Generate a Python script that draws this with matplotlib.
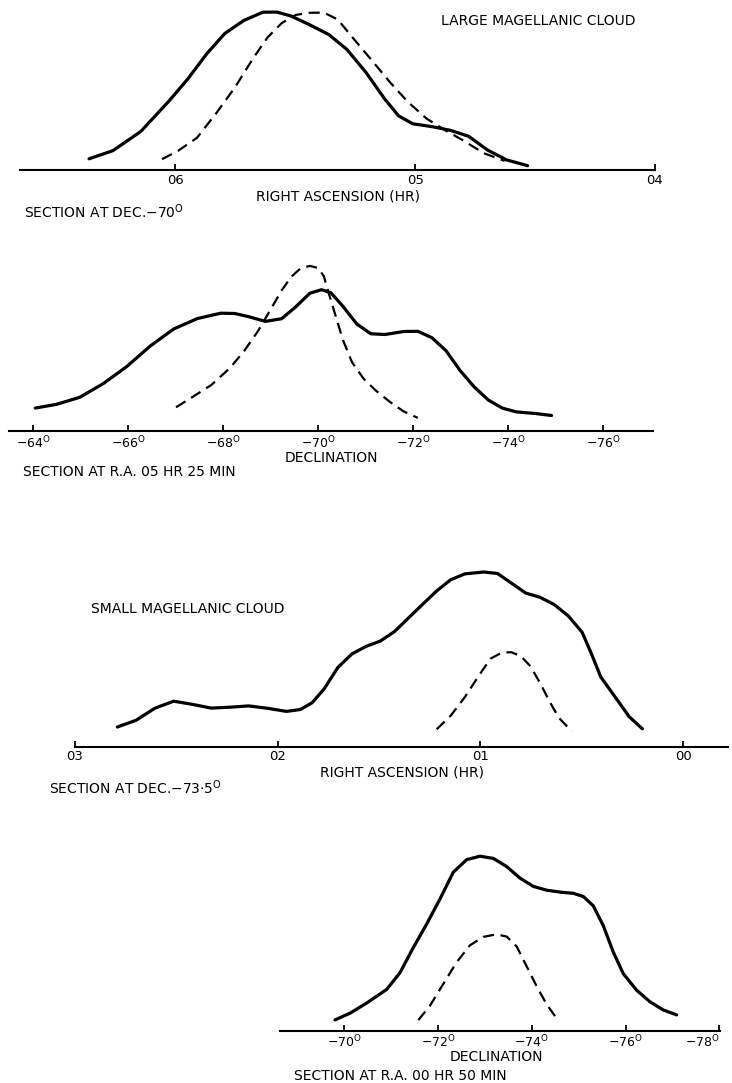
import matplotlib
matplotlib.use("Agg")
import matplotlib.pyplot as plt

plt.rcParams['font.family'] = ['DejaVu Sans']
plt.rcParams['mathtext.fontset'] = 'dejavusans'

# --- Large Magellanic Cloud, section at Dec -70 (x = RA in hours) ---
lmc_ra_solid_x = [6.360, 6.260, 6.144, 6.027, 5.948, 5.869, 5.794, 5.715, 5.635, 5.577,
                  5.519, 5.440, 5.360, 5.285, 5.206, 5.127, 5.069, 5.010, 4.931, 4.852,
                  4.777, 4.698, 4.619, 4.531]
lmc_ra_solid_y = [11.7, 19.9, 39.1, 69.4, 91.6, 116.8, 137.0, 150.0, 158.3, 158.4,
                  154.6, 145.7, 135.9, 121.1, 98.3, 71.5, 54.6, 46.7, 43.9, 40.1,
                  34.2, 20.4, 10.6, 4.8]
lmc_ra_dash_x = [6.056, 5.990, 5.910, 5.831, 5.752, 5.673, 5.615, 5.556, 5.498, 5.440,
                 5.381, 5.323, 5.265, 5.185, 5.106, 5.031, 4.952, 4.873, 4.794, 4.715, 4.627]
lmc_ra_dash_y = [11.3, 19.5, 32.7, 56.9, 83.0, 113.2, 133.3, 147.5, 155.6, 157.7,
                 157.9, 151.0, 134.1, 111.3, 88.5, 68.7, 51.8, 40.0, 29.2, 17.4, 9.6]

# --- Large Magellanic Cloud, section at R.A. 05h 25m (x = declination) ---
lmc_dec_solid_x = [-64.046, -64.491, -64.985, -65.480, -65.975, -66.467, -66.962, -67.457,
                   -67.952, -68.246, -68.543, -68.891, -69.236, -69.533, -69.829, -70.076,
                   -70.274, -70.520, -70.817, -71.114, -71.411, -71.807, -72.101, -72.398,
                   -72.695, -72.992, -73.288, -73.585, -73.880, -74.177, -74.573, -74.918]
lmc_dec_solid_y = [22.9, 26.6, 33.7, 47.4, 64.5, 84.9, 102.0, 112.4,
                   117.8, 117.5, 114.3, 109.6, 112.3, 124.2, 137.8, 141.3,
                   138.2, 125.0, 107.0, 97.2, 96.5, 99.5, 99.7, 93.3,
                   80.3, 60.5, 44.1, 31.0, 22.9, 19.1, 17.5, 15.5]
lmc_dec_dash_x = [-67.011, -67.358, -67.754, -68.147, -68.444, -68.741, -68.989, -69.236,
                  -69.434, -69.632, -69.829, -70.006, -70.124, -70.223, -70.373, -70.520,
                  -70.718, -70.964, -71.213, -71.509, -71.806, -72.101]
lmc_dec_dash_y = [23.7, 34.0, 46.0, 63.0, 79.9, 100.2, 120.4, 140.6,
                  154.1, 162.6, 165.1, 163.0, 154.7, 138.2, 114.9, 91.7,
                  68.6, 52.1, 40.6, 29.3, 19.5, 13.1]

# --- Small Magellanic Cloud, section at Dec -73.5 (x = RA in hours) ---
smc_ra_solid_x = [2.791, 2.698, 2.606, 2.513, 2.420, 2.328, 2.235, 2.143, 2.050, 1.957,
                  1.888, 1.830, 1.772, 1.703, 1.633, 1.563, 1.494, 1.424, 1.355, 1.286,
                  1.216, 1.147, 1.077, 0.984, 0.915, 0.846, 0.776, 0.707, 0.637, 0.567,
                  0.498, 0.452, 0.406, 0.336, 0.266, 0.201]
smc_ra_solid_y = [20.0, 26.8, 38.8, 45.8, 42.6, 38.9, 39.8, 41.1, 38.7, 35.6,
                  37.5, 44.3, 57.8, 79.6, 93.2, 100.7, 105.9, 115.4, 129.0, 142.5,
                  156.0, 167.2, 173.1, 175.0, 173.5, 163.7, 153.9, 149.8, 142.6, 131.2,
                  114.7, 93.1, 70.0, 50.2, 30.3, 18.2]
smc_ra_dash_x = [1.216, 1.147, 1.077, 1.007, 0.950, 0.892, 0.846, 0.799, 0.753, 0.706,
                 0.660, 0.614, 0.549]
smc_ra_dash_y = [17.7, 31.2, 49.8, 71.6, 88.4, 94.6, 94.7, 90.6, 80.7, 64.1,
                 46.0, 29.4, 15.6]

# --- Small Magellanic Cloud, section at R.A. 00h 50m (x = declination) ---
smc_dec_solid_x = [-69.802, -70.122, -70.478, -70.904, -71.188, -71.471, -71.757, -72.041,
                   -72.324, -72.610, -72.893, -73.177, -73.463, -73.746, -74.030, -74.316,
                   -74.599, -74.883, -75.096, -75.309, -75.522, -75.736, -75.949, -76.235,
                   -76.518, -76.802, -77.087]
smc_dec_solid_y = [10.6, 17.3, 27.5, 41.1, 57.8, 82.9, 106.5, 131.6,
                   158.3, 170.9, 174.3, 172.1, 163.9, 152.4, 144.1, 140.3,
                   138.4, 137.2, 134.0, 124.7, 104.9, 78.4, 56.8, 40.2,
                   28.7, 20.5, 15.6]
smc_dec_dash_x = [-71.578, -71.827, -72.111, -72.397, -72.680, -72.964, -73.249, -73.463,
                  -73.676, -73.889, -74.102, -74.316, -74.493]
smc_dec_dash_y = [10.4, 24.8, 46.6, 68.4, 85.2, 93.6, 96.2, 93.9,
                  84.0, 64.1, 44.2, 26.0, 14.4]

ra_ticks_lmc = [6, 5, 4]
ra_labels_lmc = ["06", "05", "04"]
dec_ticks_lmc = [-64, -66, -68, -70, -72, -74, -76]
ra_ticks_smc = [3, 2, 1, 0]
ra_labels_smc = ["03", "02", "01", "00"]
dec_ticks_smc = [-70, -72, -74, -76, -78]

W, H = 732, 1083
fig = plt.figure(figsize=(W / 100, H / 100), dpi=100)
FS = 10
TFS_RA = 9.5
TFS_DEC = 9


def deg(v):
    return "\u2212%d$^{\\mathrm{O}}$" % abs(v)


def panel(left, top, right, base, xlim, tfs):
    ax = fig.add_axes([left / W, 1 - base / H, (right - left) / W, (base - top) / H])
    ax.set_xlim(*xlim)
    ax.set_ylim(0, base - top)
    for s in ("left", "right", "top"):
        ax.spines[s].set_visible(False)
    ax.spines["bottom"].set_linewidth(1.5)
    ax.set_yticks([])
    ax.tick_params(axis="x", direction="in", length=4.5, width=1.3,
                   labelsize=tfs, pad=2.5)
    ax.patch.set_alpha(0)
    return ax


def curves(ax, sx, sy, dx, dy):
    ax.plot(sx, sy, color="black", lw=2.3, solid_capstyle="round",
            solid_joinstyle="round", clip_on=False)
    ax.plot(dx, dy, color="black", lw=1.6, dashes=(5, 3), clip_on=False)


def ftext(x, y, s, ha="center", fs=FS):
    fig.text(x / W, 1 - y / H, s, ha=ha, va="center", fontsize=fs)


# panel 1
ax1 = panel(20, 0, 655, 170.5, (6.648, 4.0), TFS_RA)
curves(ax1, lmc_ra_solid_x, lmc_ra_solid_y, lmc_ra_dash_x, lmc_ra_dash_y)
ax1.set_xticks(ra_ticks_lmc)
ax1.set_xticklabels(ra_labels_lmc)
ftext(538, 21, "LARGE MAGELLANIC CLOUD")
ftext(338, 197, "RIGHT ASCENSION (HR)")
ftext(104, 212, "SECTION AT DEC.\u221270$^{\\mathrm{O}}$")

# panel 2
ax2 = panel(9, 250, 653, 431, (-63.495, -77.053), TFS_DEC)
curves(ax2, lmc_dec_solid_x, lmc_dec_solid_y, lmc_dec_dash_x, lmc_dec_dash_y)
ax2.set_xticks(dec_ticks_lmc)
ax2.set_xticklabels([deg(v) for v in dec_ticks_lmc])
ftext(331, 458, "DECLINATION")
ftext(129, 472, "SECTION AT R.A. 05 HR 25 MIN")

# panel 3
ax3 = panel(75, 560, 728, 747, (3.0, -0.2215), TFS_RA)
curves(ax3, smc_ra_solid_x, smc_ra_solid_y, smc_ra_dash_x, smc_ra_dash_y)
ax3.set_xticks(ra_ticks_smc)
ax3.set_xticklabels(ra_labels_smc)
ftext(188, 609, "SMALL MAGELLANIC CLOUD")
ftext(402, 773, "RIGHT ASCENSION (HR)")
ftext(135, 788, "SECTION AT DEC.\u221273\u00b75$^{\\mathrm{O}}$")

# panel 4
ax4 = panel(280, 840, 720, 1030.5, (-68.629, -78.011), TFS_DEC)
curves(ax4, smc_dec_solid_x, smc_dec_solid_y, smc_dec_dash_x, smc_dec_dash_y)
ax4.set_xticks(dec_ticks_smc)
ax4.set_xticklabels([deg(v) for v in dec_ticks_smc])
last = ax4.get_xticklabels()[-1]
last.set_horizontalalignment("right")
ftext(496, 1057, "DECLINATION")
ftext(400, 1076, "SECTION AT R.A. 00 HR 50 MIN")

fig.savefig("out.png", dpi=100, facecolor="white")
